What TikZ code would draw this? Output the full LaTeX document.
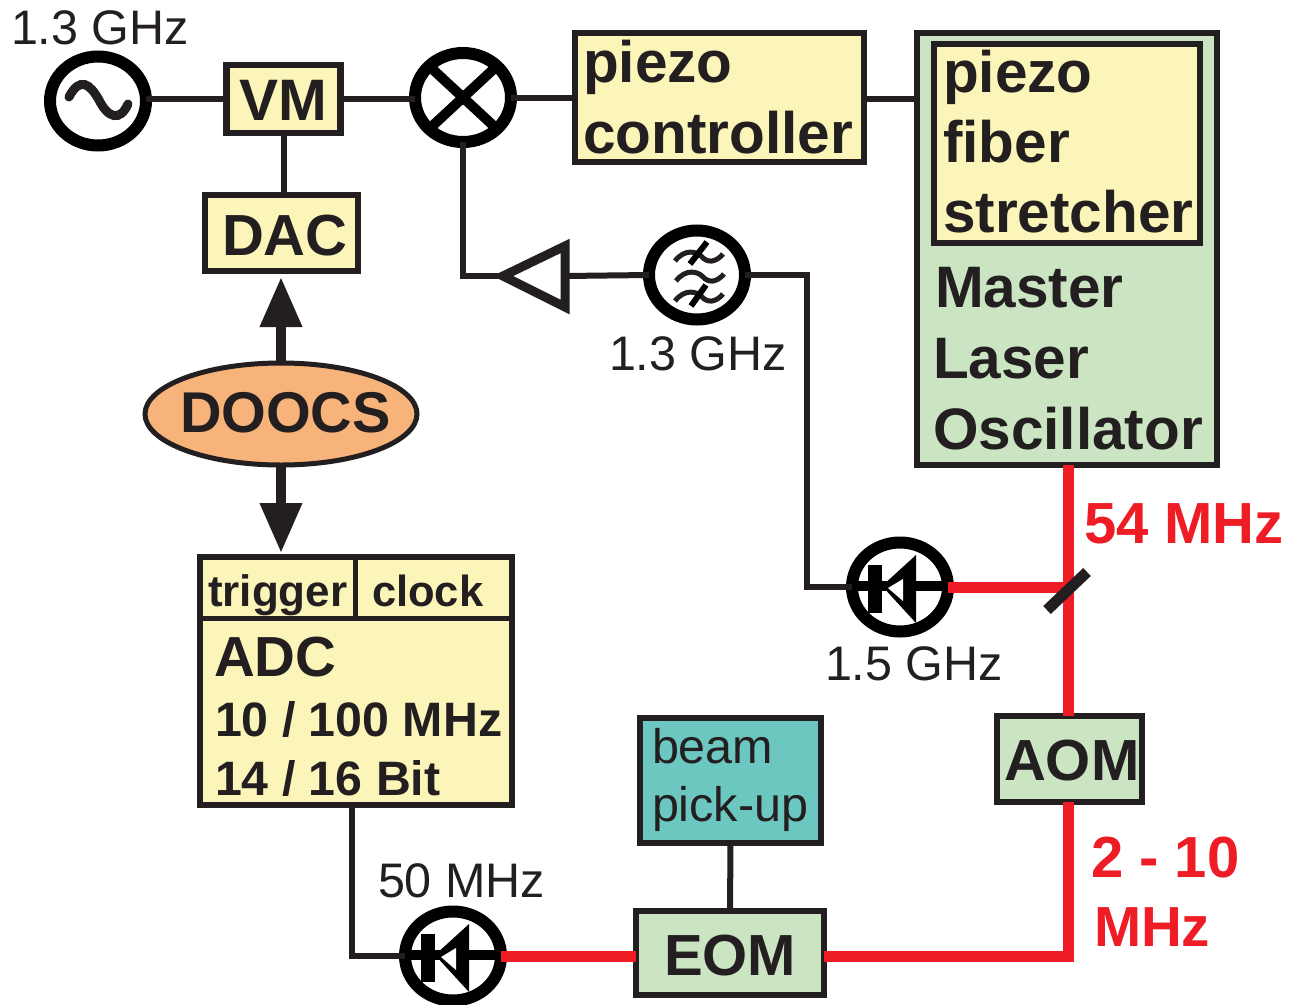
\documentclass[tikz,border=0pt]{standalone}
\usepackage{fontspec}
\setmainfont{Liberation Sans}
\usetikzlibrary{shapes.geometric,arrows.meta}
\definecolor{ink}{HTML}{231F20}
\definecolor{yel}{HTML}{FBF5B9}
\definecolor{grn}{HTML}{CBE5C3}
\definecolor{teal2}{HTML}{6CC7C1}
\definecolor{org}{HTML}{F8B37A}
\definecolor{sigred}{HTML}{EE1C25}
\tikzset{
  box/.style={draw=ink,line width=6.5pt,rectangle,inner sep=0pt,outer sep=0pt,text=ink,fill=yel},
  ring/.style={draw=black,line width=12pt,ellipse,minimum width=96pt,minimum height=89pt,inner sep=0pt,outer sep=0pt,fill=white},
  lab/.style={anchor=base west,inner sep=0pt,outer sep=0pt,text=ink},
  big/.style={lab,font=\bfseries\fontsize{58.5}{60}\selectfont},
  mid/.style={lab,font=\bfseries\fontsize{48.3}{50}\selectfont},
  small/.style={lab,font=\bfseries\fontsize{44}{46}\selectfont},
  thin/.style={lab,font=\fontsize{48.5}{50}\selectfont},
  redl/.style={lab,text=sigred,font=\bfseries\fontsize{58}{60}\selectfont},
  wire/.style={draw=ink,line width=6pt},
  beam/.style={draw=sigred,line width=11pt},
  dbl/.style={draw=ink,line width=10pt,-{Triangle[length=50pt,width=40pt]}}
}
\newcommand{\diodeglyph}[1]{%
  \begin{scope}[shift={(#1)}]
    \draw[black,line width=10pt] (-44,-1) -- (44,-1);
    \fill[black] (-32,-22) rectangle (-18,26);
    \fill[black] (-18,-1) -- (16,-32) -- (16,36) -- cycle;
    \fill[white] (-12,1) -- (3,-8) -- (3,14) -- cycle;
  \end{scope}}
\begin{document}
\begin{tikzpicture}[x=1pt,y=-1pt]
\useasboundingbox (0,0) rectangle (1293,1004);
% boxes
\node[box,fill=grn,minimum width=300pt,minimum height=432pt] (master) at (1067,249) {};
\node[box,minimum width=266pt,minimum height=199pt] (stretch) at (1067,143.5) {};
\node[box,minimum width=289pt,minimum height=129pt] (ctrl) at (719.5,97.5) {};
\node[box,minimum width=114pt,minimum height=68pt] (vm) at (283.5,99) {};
\node[box,minimum width=153pt,minimum height=76pt] (dac) at (281.5,233) {};
\node[box,minimum width=312pt,minimum height=248pt] (adc) at (356,681) {};
\node[box,fill=teal2,minimum width=181pt,minimum height=125pt] (pickup) at (730.5,780.5) {};
\node[box,fill=grn,minimum width=188pt,minimum height=84pt] (eom) at (730,953) {};
\node[box,fill=grn,minimum width=145pt,minimum height=86pt] (aom) at (1069.5,759) {};
\node[draw=ink,line width=5pt,ellipse,fill=org,minimum width=272pt,minimum height=102pt,inner sep=0pt,outer sep=0pt] (doocs) at (281,414) {};
% round elements
\node[ring] (sine) at (98,101) {};
\node[ring] (mix) at (463,97.5) {};
\node[ring] (filt) at (697,275) {};
\node[ring] (d1) at (900,587) {};
\node[ring] (d2) at (453,956) {};
% helper coordinates
\coordinate (triL) at (503,276);
\coordinate (triR) at (565,276);
\coordinate (kink) at (807,587);
\coordinate (split) at (1068,587);
\coordinate (corner) at (1068,956);
\coordinate (adcdrop) at (352,956);
\coordinate (mirA) at (1047,610);
\coordinate (mirB) at (1087,572);
\coordinate (divL) at (197,618);
\coordinate (divR) at (515,618);
\coordinate (divT) at (355,554);
\coordinate (divB) at (355,618);
% black connectors
\draw[wire] (sine.east |- vm.west) -- (vm.west);
\draw[wire] (vm.east) -- (mix.west |- vm.east);
\draw[wire] (mix.east |- ctrl.west) -- (ctrl.west);
\draw[wire] (ctrl.east |- vm.east) -- (master.west |- vm.east);
\draw[wire] (vm.south) -- (vm.south |- dac.north);
\draw[wire] (mix.south) |- (triL);
\draw[wire] (triR) -- (filt.west);
\draw[wire,line join=miter] (filt.east) -| (kink) -- (d1.west);
\draw[wire] (adc.south -| adcdrop) -- (adcdrop) -- (d2.west);
\draw[wire] (pickup.south) -- (eom.north);
% triangle amplifier
\draw[draw=ink,line width=9pt,line join=miter,miter limit=10,fill=white] (triL) -- (565,246) -- (565,307) -- cycle;
% arrows from DOOCS
\draw[dbl,shorten >=6pt] (doocs.north) -- (doocs.north |- dac.south);
\draw[dbl,shorten >=4pt] (doocs.south) -- (doocs.south |- adc.north);
% ADC dividers
\draw[draw=ink,line width=5pt] (divL) -- (divR);
\draw[draw=ink,line width=5pt] (divT) -- (divB);
% red beams
\draw[beam] (split |- master.south) -- (split |- aom.north);
\draw[beam] (d1.east) -- (split);
\draw[beam,line join=miter] (split |- aom.south) -- (corner) -- (corner -| eom.east);
\draw[beam] (d2.east -| eom.west) -- (d2.east);
\draw[ink,line width=11pt] (mirA) -- (mirB);
% glyphs
\draw[ink,line width=9pt,line cap=round] (69,97) .. controls (80,76) and (90,84) .. (99,100) .. controls (108,118) and (120,122) .. (128,104);
\draw[black,line width=10pt] (428,65) -- (498,130);
\draw[black,line width=10pt] (428,130) -- (498,65);
\draw[ink,line width=5pt] (675,261) .. controls (685,248) and (697,252) .. (701,256) .. controls (708,264) and (716,262) .. (723,254);
\draw[ink,line width=5pt] (676,281) .. controls (686,268) and (698,272) .. (702,276) .. controls (709,284) and (717,282) .. (724,274);
\draw[ink,line width=5pt] (675,301) .. controls (685,288) and (697,292) .. (701,296) .. controls (708,304) and (716,302) .. (723,294);
\draw[black,line width=6pt] (690,264) -- (707,242);
\draw[black,line width=6pt] (691,306) -- (706,285);
\diodeglyph{d1}
\diodeglyph{d2}
% labels
\node[thin] (f0) at (11,44) {1.3 GHz};
\node[thin] (f1) at (609,370) {1.3 GHz};
\node[thin] (f2) at (825,680) {1.5 GHz};
\node[thin] (f3) at (378,897) {50 MHz};
\node[big] (t1) at (583,82) {piezo};
\node[big] (t2) at (583,153) {controller};
\node[big] (t3) at (943,92) {piezo};
\node[big] (t4) at (943,162) {fiber};
\node[big] (t5) at (943,232) {stretcher};
\node[big] (t6) at (935,307) {Master};
\node[big] (t7) at (933,378) {Laser};
\node[big] (t8) at (933,449) {Oscillator};
\node[small] (t9) at (208,606) {trigger};
\node[small,font=\bfseries\fontsize{43.5}{46}\selectfont] (t10) at (372,606) {clock};
\node[big,font=\bfseries\fontsize{56.5}{60}\selectfont] (t11) at (214,676) {ADC};
\node[mid] (t12) at (215,736) {10 / 100 MHz};
\node[mid] (t13) at (215,795) {14 / 16 Bit};
\node[thin] (t14) at (652,763) {beam};
\node[thin] (t15) at (652,821) {pick-up};
\node[big] (t16) at (239,120) {VM};
\node[big,font=\bfseries\fontsize{58}{60}\selectfont] (t17) at (222,255) {DAC};
\node[big,font=\bfseries\fontsize{57.5}{60}\selectfont] (t18) at (180,432) {DOOCS};
\node[big,font=\bfseries\fontsize{58}{60}\selectfont] (t19) at (664,975) {EOM};
\node[big,font=\bfseries\fontsize{58}{60}\selectfont] (t20) at (1004,780) {AOM};
\node[redl] (r1) at (1084,543) {54 MHz};
\node[redl] (r2) at (1091,877) {2 - 10};
\node[redl,font=\bfseries\fontsize{56.5}{60}\selectfont] (r3) at (1094,946) {MHz};
\end{tikzpicture}
\end{document}
